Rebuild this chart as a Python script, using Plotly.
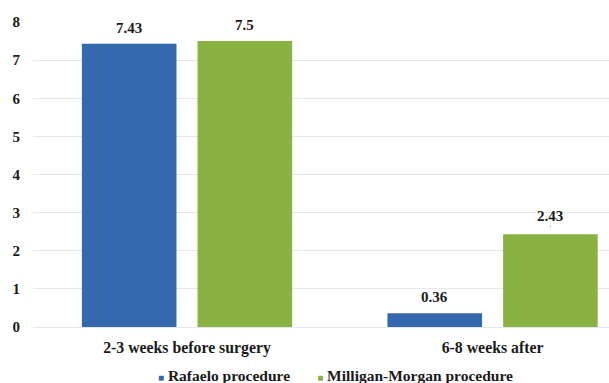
import plotly.graph_objects as go

categories = ["2-3 weeks before surgery", "6-8 weeks after"]
rafaelo = [7.43, 0.36]
milligan = [7.5, 2.43]
y_ticks = [0, 1, 2, 3, 4, 5, 6, 7, 8]
series = [
    ("Rafaelo procedure", rafaelo, "#3469B0"),
    ("Milligan-Morgan procedure", milligan, "#8AB243"),
]

serif = "Liberation Serif"
ink = "#1a1a1a"


def bold(size):
    return dict(family=serif, size=size, color=ink, weight="bold")


# half of one bar slot in pixels: bars sit this far left/right of the category centre
slot_half = 57.75

fig = go.Figure()
for name, vals, color in series:
    fig.add_trace(go.Bar(
        name=name, x=categories, y=vals,
        marker=dict(color=color, line=dict(width=0)),
        showlegend=False,
    ))

# value labels above each bar, lifted a little clear of the bar top
for i, (name, vals, color) in enumerate(series):
    shift = -slot_half if i == 0 else slot_half
    for cat, v in zip(categories, vals):
        leader = (i == 1 and v < 5)
        fig.add_annotation(
            x=cat, y=v, xshift=shift, text=f"{v:g}", font=bold(15),
            showarrow=leader, arrowhead=0, arrowwidth=1, arrowcolor="#9aa7b5",
            ax=0, ay=-18, standoff=7,
            yanchor="bottom" if not leader else "auto",
            yshift=0 if leader else 6,
        )

# legend row: small coloured squares followed by series names
legend_text = (
    f'<span style="color:{series[0][2]};font-size:10px">■</span>&nbsp;{series[0][0]}'
    "&nbsp;&nbsp;&nbsp;&nbsp;&nbsp;&nbsp;&nbsp;"
    f'<span style="color:{series[1][2]};font-size:10px">■</span>&nbsp;{series[1][0]}'
)
fig.add_annotation(
    x=0.526, y=-0.16, xref="paper", yref="paper", xanchor="center", yanchor="middle",
    text=legend_text, showarrow=False, font=bold(15.5),
)

fig.update_layout(
    width=609, height=383,
    margin=dict(l=33, r=0, t=22, b=56, autoexpand=False),
    paper_bgcolor="white", plot_bgcolor="white",
    barmode="group", bargap=0.243, bargroupgap=0.182,
    font=bold(15),
)
fig.update_xaxes(
    range=[-0.504, 1.381], showgrid=False, showline=False, ticks="",
    ticklabelstandoff=9, tickfont=bold(15.8),
)
fig.update_yaxes(
    range=[0, 8], tickvals=y_ticks, showgrid=True, gridcolor="#E3E8EE",
    gridwidth=1, zeroline=True, zerolinecolor="#E3E8EE", zerolinewidth=1,
    showline=False, ticks="", ticklabelstandoff=12, tickfont=bold(15),
)

fig.write_html("out.html")
